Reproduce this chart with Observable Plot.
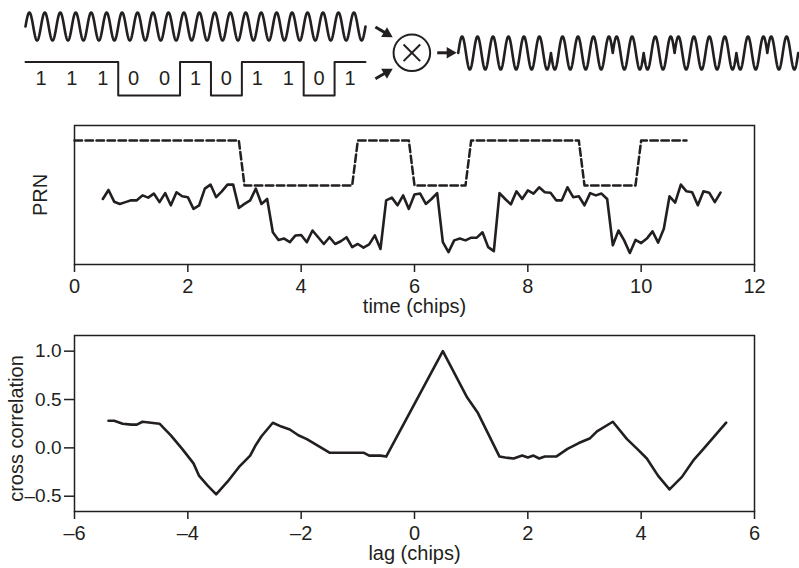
<!DOCTYPE html>
<html>
<head>
<meta charset="utf-8">
<script src="https://cdn.jsdelivr.net/npm/d3@7"></script>
<script src="https://cdn.jsdelivr.net/npm/@observablehq/plot@0.6"></script>
<style>
  body { margin: 0; background: #fff; }
  #chart { width: 799px; height: 568px; }
  #chart svg { display: block; }
</style>
</head>
<body>
<div id="chart"></div>
<script>
// ---------- data ----------
const bits = [1, 1, 1, 0, 0, 1, 0, 1, 1, 0, 1];
const bitLabels = ["1", "1", "1", "0", "0", "1", "0", "1", "1", "0", "1"];
const cyclesPerChip = 2;

// received (noisy, delayed) PRN signal, sampled every 0.1 chip from t = 0.5
const sigStart = 0.5, sigStep = 0.1;
const signal = [
  -0.30, -0.10, -0.36, -0.41, -0.37, -0.33, -0.33, -0.22, -0.27, -0.18,
  -0.37, -0.17, -0.44, -0.15, -0.24, -0.26, -0.52, -0.44, -0.07, 0.02,
  -0.26, -0.13, 0.02, 0.02, -0.50, -0.41, -0.33, -0.07, -0.41, -0.30,
  -1.04, -1.21, -1.18, -1.26, -1.11, -1.10, -1.26,
  -1.00, -1.15, -1.30, -1.15, -1.30, -1.24, -1.15, -1.37, -1.30, -1.38,
  -1.31, -1.11, -1.41, -0.33, -0.27, -0.44, -0.22, -0.52, -0.20, -0.18,
  -0.41, -0.30, -0.17, -1.26, -1.48, -1.22, -1.18, -1.22, -1.16, -1.16,
  -1.04, -1.37, -1.46,
  -0.17, -0.30, -0.42, -0.13, -0.30, -0.11, -0.18, -0.04, -0.15, -0.16,
  -0.33, -0.33, -0.04, -0.26, -0.24, -0.44, -0.17, -0.22, -0.18, -0.30,
  -1.33, -1.00, -1.22, -1.50, -1.21, -1.28, -1.18, -1.02, -1.27, -0.96,
  -0.24, -0.38, 0.02, -0.13, -0.15, -0.44, -0.13, -0.16, -0.37, -0.16
];
const prnStep = 0.1, prnEnd = 10.8;

// cross correlation vs lag
const lag = [-5.4, -5.3, -5.15, -5.0, -4.9, -4.8, -4.65, -4.5, -4.3, -4.1, -3.9, -3.8, -3.65, -3.5,
  -3.3, -3.1, -2.9, -2.8, -2.7, -2.5, -2.35, -2.2, -2.05, -1.9, -1.7, -1.5, -1.4, -0.9, -0.8, -0.6, -0.5,
  0.5, 0.93, 1.12, 1.5, 1.6, 1.75, 1.9, 2.0, 2.1, 2.2, 2.3, 2.5, 2.7, 2.9, 3.1, 3.22, 3.5,
  3.75, 3.93, 4.1, 4.3, 4.5, 4.72, 4.92, 5.1, 5.5];
const corr = [0.28, 0.28, 0.25, 0.24, 0.24, 0.27, 0.26, 0.25, 0.13, -0.01, -0.16, -0.29, -0.39, -0.48,
  -0.35, -0.20, -0.08, 0.03, 0.12, 0.26, 0.22, 0.19, 0.13, 0.09, 0.02, -0.05, -0.05, -0.05, -0.08, -0.08, -0.09,
  1.0, 0.52, 0.36, -0.09, -0.10, -0.11, -0.08, -0.10, -0.08, -0.11, -0.09, -0.09, -0.01, 0.05, 0.10, 0.17, 0.27,
  0.09, -0.01, -0.11, -0.29, -0.43, -0.30, -0.13, -0.01, 0.26];

const timeTicks = [0, 2, 4, 6, 8, 10, 12];
const lagTicks = [-6, -4, -2, 0, 2, 4, 6];
const corrTicks = [-0.5, 0, 0.5, 1.0];

// ---------- style ----------
const ink = "#231f20";
const font = "'Liberation Sans', Arial, Helvetica, sans-serif";
const baseStyle = {fontFamily: font, fontSize: "20px", color: ink, background: "#fff", overflow: "visible"};
const dashMinus = f => v => f(v).replace("\u2212", "\u2013");

// ---------- top schematic ----------
const nChips = bits.length;
const pxPerChip = 340 / nChips;
const carrierY = 26, carrierA = 14;
const codeHi = 61.5, codeLo = 95, bitY = 78.5;
const modY = 52.5, modA = 16.5, modOffset = 14;
const mixX = 12.5, mixY = 52.3, mixR = 18.3, crossHalf = 8.3 / pxPerChip, crossHalfY = 8.3;

const chipOf = t => Math.min(nChips - 1, Math.floor(t + 1e-9));
const grid = d3.range(0, nChips * 100 + 1).map(i => i / 100);
const carrier = grid.map(t => ({x: t, y: carrierY - carrierA * Math.sin(2 * Math.PI * cyclesPerChip * t)}));
const modulated = grid.map(t => ({x: modOffset + t,
  y: modY - modA * (2 * bits[chipOf(t)] - 1) * Math.sin(2 * Math.PI * cyclesPerChip * t)}));
const code = bits.map((b, i) => ({x: i, y: b ? codeHi : codeLo}));
code.push({x: nChips, y: code[nChips - 1].y});
const labels = bitLabels.map((s, i) => ({x: i + 0.5, y: bitY, s}));

const arrows = [
  {x1: 11.32, y1: 26.5, x2: 11.88, y2: 36.7},
  {x1: 11.32, y1: 78.3, x2: 11.88, y2: 68.3},
  {x1: 13.32, y1: 52.3, x2: 13.95, y2: 52.3}
];
const headLen = 10, headR = 4.3, headCentroid = 6.67;
const shafts = [], heads = [];
for (const a of arrows) {
  const dxp = (a.x2 - a.x1) * pxPerChip, dyp = a.y2 - a.y1;
  const L = Math.hypot(dxp, dyp), ux = dxp / L, uy = dyp / L;
  shafts.push({x1: a.x1, y1: a.y1, x2: a.x2 - ux * (headLen - 2) / pxPerChip, y2: a.y2 - uy * (headLen - 2)});
  heads.push({x: a.x2 - ux * headCentroid / pxPerChip, y: a.y2 - uy * headCentroid,
    rot: Math.atan2(dyp, dxp) * 180 / Math.PI + 90});
}
const cross = [
  {x1: mixX - crossHalf, y1: mixY - crossHalfY, x2: mixX + crossHalf, y2: mixY + crossHalfY},
  {x1: mixX - crossHalf, y1: mixY + crossHalfY, x2: mixX + crossHalf, y2: mixY - crossHalfY}
];

const topPlot = Plot.plot({
  width: 799, height: 110, margin: 0,
  x: {domain: [0, nChips], range: [25, 365], axis: null},
  y: {domain: [0, 110], range: [0, 110], axis: null},
  style: baseStyle,
  marks: [
    Plot.line(carrier, {x: "x", y: "y", stroke: ink, strokeWidth: 2.6}),
    Plot.line(code, {x: "x", y: "y", curve: "step-after", stroke: ink, strokeWidth: 2}),
    Plot.text(labels, {x: "x", y: "y", text: "s", fill: ink, fontSize: 20}),
    Plot.link(shafts, {x1: "x1", y1: "y1", x2: "x2", y2: "y2", stroke: ink, strokeWidth: 3}),
    Plot.dot(heads, {x: "x", y: "y", symbol: "triangle", r: headR, fill: ink, stroke: null, rotate: "rot"}),
    Plot.dot([{x: mixX, y: mixY}], {x: "x", y: "y", r: mixR, stroke: ink, strokeWidth: 2, fill: "none"}),
    Plot.link(cross, {x1: "x1", y1: "y1", x2: "x2", y2: "y2", stroke: ink, strokeWidth: 2}),
    Plot.line(modulated, {x: "x", y: "y", stroke: ink, strokeWidth: 2.6})
  ]
});

// ---------- middle: PRN ----------
const sigData = signal.map((v, i) => ({t: sigStart + i * sigStep, v}));
const prnData = d3.range(0, Math.round(prnEnd / prnStep) + 1).map(i => {
  const t = i * prnStep;
  return {t, v: bits[chipOf(t)]};
});

const midPlot = Plot.plot({
  width: 799, height: 205,
  marginTop: 15, marginBottom: 51, marginLeft: 74, marginRight: 45,
  x: {domain: [0, 12]},
  y: {domain: [-1.756, 1.333], axis: null},
  style: baseStyle,
  marks: [
    Plot.frame({stroke: ink, strokeWidth: 1.5}),
    Plot.line(prnData, {x: "t", y: "v", stroke: ink, strokeWidth: 2.5, strokeDasharray: "7.5,3.5"}),
    Plot.line(sigData, {x: "t", y: "v", stroke: ink, strokeWidth: 2.6, strokeLinejoin: "round"}),
    Plot.axisX({ticks: timeTicks, tickFormat: d3.format("d"), tickSize: 8, tickPadding: 6, label: null, stroke: ink, strokeWidth: 1.5}),
    Plot.text(["time (chips)"], {text: d => d, frameAnchor: "bottom", dy: 42, lineAnchor: "middle", textAnchor: "middle", fill: ink}),
    Plot.text(["PRN"], {text: d => d, frameAnchor: "left", dx: -34, rotate: -90, lineAnchor: "middle", textAnchor: "middle", fill: ink})
  ]
});

// ---------- bottom: cross correlation ----------
const corrData = lag.map((l, i) => ({lag: l, c: corr[i]}));
const botPlot = Plot.plot({
  width: 799, height: 253,
  marginTop: 20, marginBottom: 57, marginLeft: 74, marginRight: 45,
  x: {domain: [-6, 6]},
  y: {domain: [-0.658, 1.162]},
  style: baseStyle,
  marks: [
    Plot.frame({stroke: ink, strokeWidth: 1.5}),
    Plot.line(corrData, {x: "lag", y: "c", stroke: ink, strokeWidth: 2.6, strokeLinejoin: "round"}),
    Plot.axisX({ticks: lagTicks, tickFormat: dashMinus(d3.format("d")), tickSize: 8, tickPadding: 6, label: null, stroke: ink, strokeWidth: 1.5}),
    Plot.axisY({ticks: corrTicks, tickFormat: dashMinus(d3.format(".1f")), tickSize: 10, tickPadding: 3, fontSize: 19, label: null, stroke: ink, strokeWidth: 1.5}),
    Plot.text(["lag (chips)"], {text: d => d, frameAnchor: "bottom", dy: 42, lineAnchor: "middle", textAnchor: "middle", fill: ink}),
    Plot.text(["cross correlation"], {text: d => d, frameAnchor: "left", dx: -58, dy: 5, rotate: -90, lineAnchor: "middle", textAnchor: "middle", fill: ink})
  ]
});

document.getElementById("chart").append(topPlot, midPlot, botPlot);
</script>
</body>
</html>
